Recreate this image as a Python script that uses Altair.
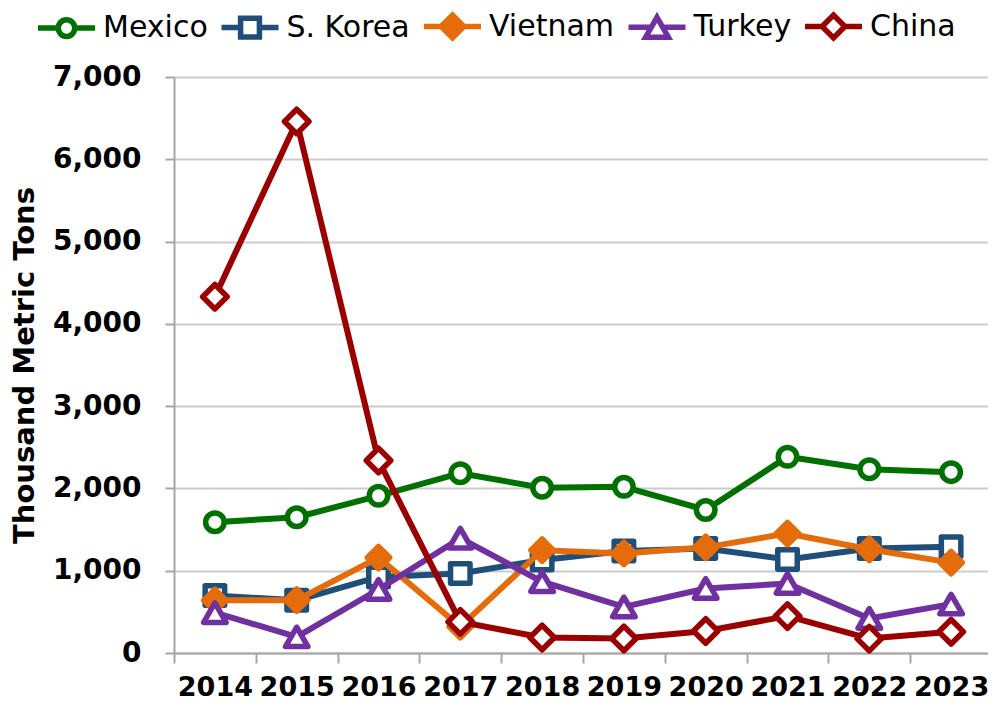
import altair as alt
import pandas as pd

years = ["2014", "2015", "2016", "2017", "2018", "2019", "2020", "2021", "2022", "2023"]
countries = ["Mexico", "S. Korea", "Vietnam", "Turkey", "China"]

mexico = [1590, 1650, 1910, 2185, 2008, 2020, 1738, 2384, 2234, 2198]
s_korea = [700, 640, 925, 967, 1130, 1240, 1270, 1137, 1270, 1290]
vietnam = [640, 642, 1160, 320, 1250, 1210, 1284, 1452, 1260, 1098]
turkey = [490, 197, 772, 1395, 866, 560, 784, 845, 420, 594]
china = [4330, 6460, 2340, 378, 188, 176, 268, 448, 175, 258]

series = [mexico, s_korea, vietnam, turkey, china]

colors = ["#007000", "#1f4e79", "#e46c0a", "#7030a0", "#9a0000"]
fills = ["white", "white", "#e46c0a", "white", "white"]
shapes = ["circle", "square", "diamond", "triangle-up", "diamond"]
sizes = [342, 380, 500, 506, 600]

# legend symbols: a short line with the series marker in its middle
legend_paths = [
    "M-1,0L-0.29,0M0.29,0L1,0M-0.29,0C-0.29,-0.16 -0.16,-0.29 0,-0.29C0.16,-0.29 0.29,-0.16 0.29,0C0.29,0.16 0.16,0.29 0,0.29C-0.16,0.29 -0.29,0.16 -0.29,0Z",
    "M-1,0L-0.33,0M0.33,0L1,0M-0.33,-0.33L0.33,-0.33L0.33,0.33L-0.33,0.33Z",
    "M-1,0L-0.4,0M0.4,0L1,0M-0.4,0L0,-0.4L0.4,0L0,0.4Z",
    "M-1,0L-0.2,0M0.2,0L1,0M0,-0.35L0.4,0.35L-0.4,0.35Z",
    "M-1,0L-0.4,0M0.4,0L1,0M-0.4,0L0,-0.4L0.4,0L0,0.4Z",
]

rows = []
for c, vals in zip(countries, series):
    for yr, v in zip(years, vals):
        rows.append({"country": c, "year": yr, "value": v})
df = pd.DataFrame(rows)

FONT = "DejaVu Sans"
AXIS_GRAY = "#a6a6a6"

x_enc = alt.X(
    "year:O",
    bandPosition=0.5,
    scale=alt.Scale(type="band", domain=years, paddingInner=0, paddingOuter=0, range=[0, 818]),
    axis=alt.Axis(
        title=None,
        tickBand="extent",
        labelAngle=0,
        grid=False,
        domainColor=AXIS_GRAY,
        domainWidth=2,
        tickColor=AXIS_GRAY,
        tickWidth=2,
        tickSize=10,
        labelFont=FONT,
        labelFontSize=27,
        labelFontWeight="bold",
        labelColor="black",
        labelPadding=11,
    ),
)

y_enc = alt.Y(
    "value:Q",
    scale=alt.Scale(domain=[0, 7000], nice=False),
    axis=alt.Axis(
        title="Thousand Metric Tons",
        values=list(range(0, 7001, 1000)),
        format=",.0f",
        grid=True,
        gridColor="#cccccc",
        gridWidth=2,
        domainColor=AXIS_GRAY,
        domainWidth=2,
        tickColor=AXIS_GRAY,
        tickWidth=2,
        tickSize=9,
        labelFont=FONT,
        labelFontSize=28,
        labelFontWeight="bold",
        labelColor="black",
        labelPadding=24,
        titleFont=FONT,
        titleFontSize=29,
        titleFontWeight="bold",
        titleColor="black",
        titleAngle=270,
        titleX=-150,
        titleY=288,
        titleAlign="center",
        titleBaseline="middle",
    ),
)

leg = alt.Legend(
    title=None,
    orient="none",
    direction="horizontal",
    legendX=-139,
    legendY=-82,
    symbolSize=3249,
    symbolStrokeWidth=5.5,
    symbolOpacity=1,
    labelFont=FONT,
    labelFontSize=30,
    labelFontWeight="normal",
    labelColor="black",
    labelOffset=5,
    columnPadding=2.5,
    padding=0,
)

legend_layer = alt.Chart(df).mark_point(opacity=0, filled=True).encode(
    x=x_enc,
    y=y_enc,
    stroke=alt.Stroke("country:N", scale=alt.Scale(domain=countries, range=colors), legend=leg),
    fill=alt.Fill("country:N", scale=alt.Scale(domain=countries, range=fills), legend=leg),
    shape=alt.Shape("country:N", scale=alt.Scale(domain=countries, range=legend_paths), legend=leg),
)

layers = [legend_layer]
for i, c in enumerate(countries):
    layers.append(
        alt.Chart(df)
        .transform_filter(alt.datum.country == c)
        .mark_line(
            color=colors[i],
            strokeWidth=6,
            strokeJoin="round",
            strokeCap="round",
            point=alt.OverlayMarkDef(
                shape=shapes[i],
                size=sizes[i],
                fill=fills[i],
                stroke=colors[i],
                strokeWidth=5.5,
                strokeJoin="round",
                filled=True,
                opacity=1,
            ),
        )
        .encode(x=x_enc, y=y_enc)
    )

chart = (
    alt.layer(*layers)
    .properties(
        width=814,
        height=576,
        autosize=alt.AutoSizeParams(type="none"),
        padding={"left": 166, "top": 69, "right": 0, "bottom": 47},
    )
    .configure_view(stroke="transparent")
)

chart.save("out.html", embed_options={"renderer": "svg", "actions": False})
